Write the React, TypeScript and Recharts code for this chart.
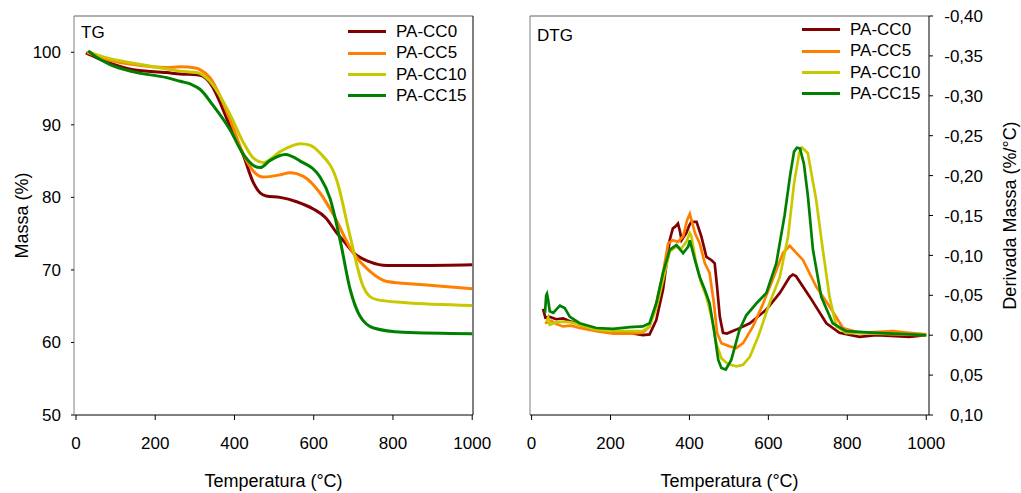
import React from 'react';
import { LineChart, Line, XAxis, YAxis, ReferenceLine } from 'recharts';

// TG / DTG curves of PA-CC samples
const SERIES = ['PA-CC0', 'PA-CC5', 'PA-CC10', 'PA-CC15'];
const COLORS = ['#800000', '#ff8000', '#c8c800', '#008000'];

const TEMP_TICKS = [0, 200, 400, 600, 800, 1000];
const TG_TICKS = [50, 60, 70, 80, 90, 100];
const DTG_TICKS = [-0.4, -0.35, -0.3, -0.25, -0.2, -0.15, -0.1, -0.05, 0, 0.05, 0.1];

// [temperatura °C, massa %]
const tgCC0 = [
  [25, 99.9], [50, 99.3], [86, 98.5], [145, 97.6], [229, 97.2], [263, 97.0], [305, 96.9], [320, 96.7],
  [338, 95.8], [389, 89.8], [423, 85.7], [448, 82.0], [465, 80.6], [480, 80.2], [515, 80.0], [557, 79.4],
  [599, 78.4], [630, 77.2], [658, 75.1], [680, 73.7], [700, 72.4], [742, 71.1], [785, 70.6], [869, 70.6], [1000, 70.7],
];
const tgCC5 = [
  [28, 100.0], [86, 98.9], [145, 98.3], [229, 97.9], [263, 98.0], [305, 97.8], [313, 97.6], [338, 96.5],
  [389, 90.7], [423, 85.9], [448, 83.6], [473, 82.8], [515, 83.1], [540, 83.4], [574, 82.9], [616, 80.6],
  [650, 77.6], [700, 72.3], [742, 69.8], [785, 68.4], [869, 68.0], [1000, 67.4],
];
const tgCC10 = [
  [30, 100.1], [86, 99.1], [145, 98.5], [229, 97.7], [263, 97.4], [305, 97.2], [338, 96.0], [389, 91.4],
  [423, 87.5], [448, 85.4], [473, 84.8], [515, 86.3], [566, 87.4], [590, 87.2], [616, 86.1], [658, 82.4],
  [692, 74.6], [725, 67.7], [740, 66.4], [759, 65.9], [826, 65.5], [1000, 65.1],
];
const tgCC15 = [
  [31, 100.2], [50, 99.4], [86, 98.3], [145, 97.3], [229, 96.5], [263, 96.0], [290, 95.6], [313, 94.9],
  [347, 92.6], [389, 89.3], [423, 85.9], [448, 84.4], [465, 84.1], [490, 85.1], [528, 85.9], [566, 85.0],
  [616, 82.8], [641, 79.9], [667, 74.0], [692, 67.3], [717, 63.6], [751, 62.0], [826, 61.4], [1000, 61.2],
];

// [temperatura °C, derivada massa %/°C]
const dtgCC0 = [
  [29, -0.033], [35, -0.022], [46, -0.023], [62, -0.020], [80, -0.021], [100, -0.017], [122, -0.013],
  [164, -0.006], [207, -0.003], [249, -0.003], [282, 0.0], [299, -0.001], [316, -0.019], [333, -0.057],
  [350, -0.119], [358, -0.134], [364, -0.136], [371, -0.140], [376, -0.130], [380, -0.119], [392, -0.128],
  [400, -0.138], [405, -0.142], [418, -0.142], [430, -0.124], [443, -0.098], [456, -0.094], [464, -0.090],
  [470, -0.061], [477, -0.023], [485, -0.003], [495, -0.002], [519, -0.007], [553, -0.015], [595, -0.032],
  [629, -0.053], [654, -0.073], [662, -0.076], [670, -0.074], [705, -0.048], [747, -0.015], [780, -0.003],
  [831, 0.002], [873, 0.0], [957, 0.002], [1000, 0.0],
];
const dtgCC5 = [
  [34, -0.015], [50, -0.018], [63, -0.014], [80, -0.011], [100, -0.012], [122, -0.009], [164, -0.005],
  [207, -0.002], [249, -0.002], [282, -0.003], [299, -0.011], [316, -0.040], [333, -0.078], [346, -0.115],
  [358, -0.119], [371, -0.117], [384, -0.124], [394, -0.144], [401, -0.152], [414, -0.128], [426, -0.115],
  [439, -0.090], [451, -0.078], [462, -0.040], [470, -0.003], [481, 0.010], [502, 0.014], [519, 0.016],
  [536, 0.010], [561, -0.011], [587, -0.040], [612, -0.071], [637, -0.103], [654, -0.112], [688, -0.094],
  [721, -0.061], [755, -0.036], [789, -0.009], [831, -0.003], [915, -0.005], [957, -0.003], [1000, -0.001],
];
const dtgCC10 = [
  [38, -0.017], [42, -0.022], [46, -0.013], [60, -0.016], [80, -0.017], [100, -0.016], [122, -0.013],
  [164, -0.007], [207, -0.005], [249, -0.005], [282, -0.005], [299, -0.011], [316, -0.034], [333, -0.069],
  [350, -0.105], [367, -0.111], [380, -0.109], [392, -0.117], [401, -0.128], [405, -0.124], [417, -0.090],
  [430, -0.065], [443, -0.048], [456, -0.023], [468, 0.010], [481, 0.029], [498, 0.036], [519, 0.039],
  [536, 0.037], [553, 0.027], [574, 0.002], [603, -0.040], [629, -0.073], [650, -0.124], [665, -0.190],
  [678, -0.228], [685, -0.235], [692, -0.232], [700, -0.228], [710, -0.200], [721, -0.170], [738, -0.107],
  [755, -0.048], [772, -0.011], [797, -0.003], [873, -0.002], [1000, 0.0],
];
const dtgCC15 = [
  [34, -0.028], [37, -0.050], [39, -0.052], [42, -0.044], [46, -0.030], [55, -0.028], [64, -0.033],
  [72, -0.037], [84, -0.034], [97, -0.023], [122, -0.015], [164, -0.009], [207, -0.008], [249, -0.010],
  [282, -0.011], [299, -0.015], [316, -0.040], [333, -0.078], [350, -0.107], [367, -0.113], [384, -0.103],
  [397, -0.111], [401, -0.119], [414, -0.094], [426, -0.073], [439, -0.057], [451, -0.040], [462, -0.007],
  [473, 0.031], [481, 0.041], [492, 0.043], [506, 0.031], [527, -0.007], [544, -0.025], [570, -0.040],
  [595, -0.053], [620, -0.090], [641, -0.150], [655, -0.200], [665, -0.230], [672, -0.235], [680, -0.234],
  [690, -0.215], [700, -0.175], [713, -0.107], [734, -0.048], [763, -0.015], [797, -0.005], [873, -0.003],
  [1000, 0.0],
];

const TG_DATA = [tgCC0, tgCC5, tgCC10, tgCC15];
const DTG_DATA = [dtgCC0, dtgCC5, dtgCC10, dtgCC15];

const FONT = '"Liberation Sans", Arial, sans-serif';
const TICK = { fontSize: 17, fill: '#000', fontFamily: FONT };

const toPts = (arr: number[][]) => arr.map(([t, v]) => ({ t, v }));
const fmtComma = (v: number) => (Math.abs(v) < 1e-9 ? '0,00' : v.toFixed(2).replace('.', ','));

function XTitle({ viewBox }: any) {
  return (
    <text x={viewBox.x + viewBox.width / 2} y={viewBox.y + 72} textAnchor="middle"
      style={{ fontSize: 18, fontFamily: FONT, fill: '#000' }}>
      Temperatura (°C)
    </text>
  );
}

function YTitle({ viewBox, text, dx }: any) {
  const cx = viewBox.x + dx;
  const cy = viewBox.y + viewBox.height / 2;
  return (
    <text x={cx} y={cy} textAnchor="middle" dy="0.35em" transform={`rotate(-90 ${cx} ${cy})`}
      style={{ fontSize: 18, fontFamily: FONT, fill: '#000' }}>
      {text}
    </text>
  );
}

// rótulos do eixo direito alinhados à direita
function RightTick({ x, y, payload }: any) {
  return (
    <text x={x + 50} y={y} dy="0.36em" textAnchor="end" style={TICK}>
      {fmtComma(payload.value)}
    </text>
  );
}

// legenda na ordem das séries
function LegendBox({ left, top }: { left: number; top: number }) {
  return (
    <div style={{ position: 'absolute', left, top, fontFamily: FONT, fontSize: 17, lineHeight: '21.4px' }}>
      {SERIES.map((s, i) => (
        <div key={s} style={{ display: 'flex', alignItems: 'center', height: 21.4 }}>
          <span style={{ display: 'inline-block', width: 38, height: 3, background: COLORS[i], marginRight: 10 }} />
          <span style={{ color: '#000' }}>{s}</span>
        </div>
      ))}
    </div>
  );
}

export default function App() {
  return (
    <div style={{ position: 'absolute', left: 0, top: 0, width: 1021, height: 493, background: '#fff' }}>
      {/* ===== TG ===== */}
      <div style={{ position: 'absolute', left: 0, top: 0 }}>
        <LineChart width={510} height={493} margin={{ top: 16, right: 37, left: 0, bottom: 0 }}>
          <XAxis dataKey="t" type="number" domain={[-5, 1002]} ticks={TEMP_TICKS} allowDataOverflow
            height={78} tickSize={5} tickMargin={17} tick={TICK}
            axisLine={{ stroke: '#000' }} tickLine={{ stroke: '#000' }}
            label={{ content: (p: any) => <XTitle {...p} /> }} />
          <YAxis type="number" domain={[50, 105]} ticks={TG_TICKS} allowDataOverflow width={74}
            tickSize={3} tickMargin={10} tick={TICK}
            axisLine={{ stroke: '#808080' }} tickLine={{ stroke: '#000' }}
            label={{ content: (p: any) => <YTitle {...p} text="Massa (%)" dx={22} /> }} />
          <ReferenceLine y={105} stroke="#606060" />
          <ReferenceLine x={1002} stroke="#000" />
          {SERIES.map((s, i) => (
            <Line key={s} name={s} data={toPts(TG_DATA[i])} dataKey="v" type="monotone"
              stroke={COLORS[i]} strokeWidth={3} dot={false} isAnimationActive={false} />
          ))}
        </LineChart>
        <LegendBox left={348} top={21} />
        <div style={{ position: 'absolute', left: 81, top: 23, fontFamily: FONT, fontSize: 17 }}>TG</div>
      </div>

      {/* ===== DTG ===== */}
      <div style={{ position: 'absolute', left: 510, top: 0 }}>
        <LineChart width={511} height={493} margin={{ top: 16, right: 0, left: 20, bottom: 0 }}>
          <XAxis dataKey="t" type="number" domain={[-4, 1007]} ticks={TEMP_TICKS} allowDataOverflow
            height={78} tickSize={5} tickMargin={17} tick={TICK}
            axisLine={{ stroke: '#000' }} tickLine={{ stroke: '#000' }}
            label={{ content: (p: any) => <XTitle {...p} /> }} />
          <YAxis type="number" orientation="right" reversed domain={[-0.4, 0.1]} ticks={DTG_TICKS}
            allowDataOverflow width={92} tickSize={4} tickMargin={0} tick={<RightTick />}
            axisLine={{ stroke: '#000' }} tickLine={{ stroke: '#000' }}
            label={{ content: (p: any) => <YTitle {...p} text="Derivada Massa (%/°C)" dx={81} /> }} />
          <ReferenceLine y={-0.4} stroke="#606060" />
          <ReferenceLine x={-4} stroke="#808080" />
          {SERIES.map((s, i) => (
            <Line key={s} name={s} data={toPts(DTG_DATA[i])} dataKey="v" type="linear"
              stroke={COLORS[i]} strokeWidth={2.7} dot={false} isAnimationActive={false} />
          ))}
        </LineChart>
        <LegendBox left={292} top={19} />
        <div style={{ position: 'absolute', left: 27, top: 26, fontFamily: FONT, fontSize: 17 }}>DTG</div>
      </div>
    </div>
  );
}
